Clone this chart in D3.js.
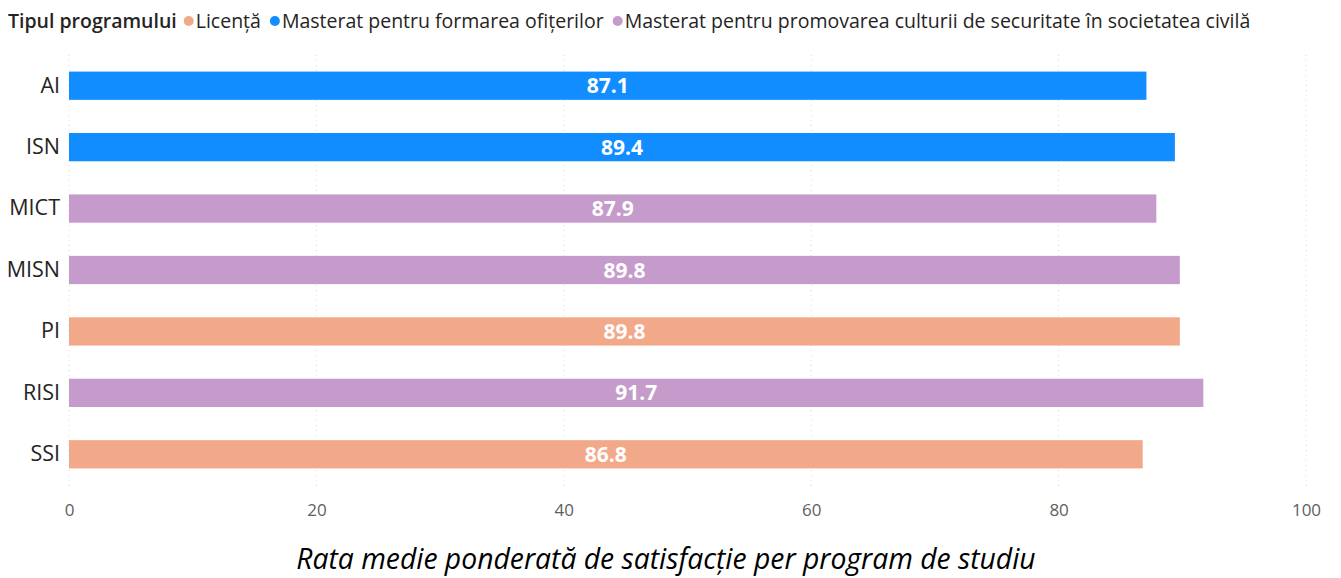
<!DOCTYPE html>
<html>
<head>
<meta charset="utf-8">
<script src="https://cdn.jsdelivr.net/npm/d3@7"></script>
<style>
  body { margin: 0; background: #fff; }
  svg { display: block; font-family: "Open Sans", "Noto Sans", sans-serif; }
</style>
</head>
<body>
<div id="chart"></div>
<script>
const programs = ["AI", "ISN", "MICT", "MISN", "PI", "RISI", "SSI"];
const rates = [87.1, 89.4, 87.9, 89.8, 89.8, 91.7, 86.8];
const types = [
  "Masterat pentru formarea ofițerilor",
  "Masterat pentru formarea ofițerilor",
  "Masterat pentru promovarea culturii de securitate în societatea civilă",
  "Masterat pentru promovarea culturii de securitate în societatea civilă",
  "Licență",
  "Masterat pentru promovarea culturii de securitate în societatea civilă",
  "Licență"
];
const typeNames = [
  "Licență",
  "Masterat pentru formarea ofițerilor",
  "Masterat pentru promovarea culturii de securitate în societatea civilă"
];
const typeColors = ["#F2A98A", "#118DFF", "#C59BCB"];
const xTicks = [0, 20, 40, 60, 80, 100];

const width = 1341, height = 578;
const margin = { top: 55, right: 35, bottom: 93, left: 69 };

const svg = d3.select("#chart").append("svg")
  .attr("width", width).attr("height", height);

const x = d3.scaleLinear().domain([0, 100]).range([margin.left, width - margin.right]);
const y = d3.scaleBand().domain(programs).range([margin.top, height - margin.bottom]).paddingInner(0.54).paddingOuter(0.27);
const color = d3.scaleOrdinal().domain(typeNames).range(typeColors);

// dotted vertical gridlines
svg.append("g")
  .selectAll("line")
  .data(xTicks)
  .join("line")
  .attr("x1", d => x(d)).attr("x2", d => x(d))
  .attr("y1", margin.top).attr("y2", height - margin.bottom + 5)
  .attr("stroke", "#d9d9d9")
  .attr("stroke-width", 1)
  .attr("stroke-dasharray", "1,4");

// x axis labels
const xAxis = svg.append("g")
  .attr("transform", `translate(0,${height - margin.bottom + 11})`)
  .call(d3.axisBottom(x).tickValues(xTicks).tickSize(0).tickPadding(8));
xAxis.select(".domain").remove();
xAxis.selectAll("text")
  .attr("font-family", "Open Sans, sans-serif")
  .attr("font-size", 17)
  .attr("fill", "#605E5C");

// y axis labels
const yAxis = svg.append("g")
  .attr("transform", `translate(${margin.left},0)`)
  .call(d3.axisLeft(y).tickSize(0).tickPadding(9));
yAxis.select(".domain").remove();
yAxis.selectAll("text")
  .attr("font-family", "Open Sans, sans-serif")
  .attr("font-size", 21.5)
  .attr("fill", "#252423");

// bars
svg.append("g")
  .selectAll("rect")
  .data(programs)
  .join("rect")
  .attr("x", x(0))
  .attr("y", d => y(d))
  .attr("width", (d, i) => x(rates[i]) - x(0))
  .attr("height", y.bandwidth())
  .attr("fill", (d, i) => color(types[i]));

// value labels
svg.append("g")
  .selectAll("text")
  .data(programs)
  .join("text")
  .attr("x", (d, i) => (x(0) + x(rates[i])) / 2)
  .attr("y", d => y(d) + y.bandwidth() / 2)
  .attr("dy", "0.36em")
  .attr("text-anchor", "middle")
  .attr("font-size", 21)
  .attr("font-weight", "bold")
  .attr("fill", "#fff")
  .text((d, i) => rates[i].toFixed(1));

// legend
const legend = svg.append("g").attr("transform", "translate(8,21)");
const title = legend.append("text")
  .attr("x", 0).attr("dy", "0.35em")
  .attr("font-size", 19.5)
  .attr("font-weight", 600)
  .attr("fill", "#252423")
  .text("Tipul programului");
let lx = title.node().getComputedTextLength() + 7;
typeNames.forEach((name, i) => {
  legend.append("circle")
    .attr("cx", lx + 5).attr("cy", 0).attr("r", 5)
    .attr("fill", typeColors[i]);
  const t = legend.append("text")
    .attr("x", lx + 12).attr("dy", "0.35em")
    .attr("font-size", 19.5)
    .attr("fill", "#252423")
    .text(name);
  lx += 12 + t.node().getComputedTextLength() + 9;
});

// caption
svg.append("text")
  .attr("x", 666).attr("y", 569)
  .attr("text-anchor", "middle")
  .attr("font-size", 28.3)
  .attr("font-style", "italic")
  .attr("fill", "#000")
  .text("Rata medie ponderată de satisfacție per program de studiu");
</script>
</body>
</html>
